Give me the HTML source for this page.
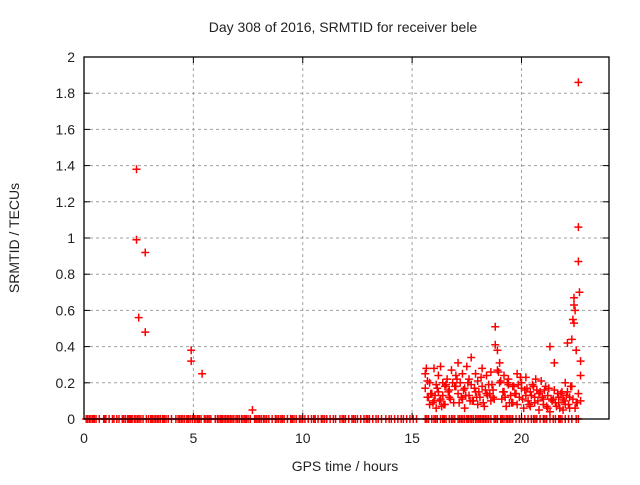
<!DOCTYPE html>
<html><head><meta charset="utf-8"><style>
body{margin:0;background:#fff;}
svg text{font-family:"Liberation Sans",sans-serif;font-size:14px;fill:#222;}
</style></head><body>
<svg id="chart" width="640" height="480" xmlns="http://www.w3.org/2000/svg">
<rect width="640" height="480" fill="#fff"/>
<g id="grid"></g><g id="marks"></g><g id="axes"></g>
</svg>
<script>
const xTicks=[0,5,10,15,20];
const yTicks=[0,0.2,0.4,0.6,0.8,1,1.2,1.4,1.6,1.8,2];
const yTickLabels=["0","0.2","0.4","0.6","0.8","1","1.2","1.4","1.6","1.8","2"];
const zeroTimes=[0.1,0.17,0.25,0.32,0.4,0.47,0.55,0.7,0.9,0.95,1.0,1.15,1.3,1.37,1.5,1.6,1.75,1.82,1.9,2.0,2.05,2.1,2.15,2.2,2.3,2.37,2.45,2.52,2.6,2.7,2.85,2.95,3.05,3.12,3.2,3.27,3.35,3.42,3.5,3.6,3.67,3.75,3.85,4.0,4.2,4.3,4.37,4.45,4.52,4.6,4.7,4.77,4.85,4.95,5.05,5.12,5.2,5.27,5.35,5.5,5.57,5.65,5.72,5.8,6.0,6.1,6.17,6.25,6.32,6.4,6.47,6.55,6.62,6.7,6.77,6.85,6.95,7.02,7.1,7.2,7.27,7.35,7.42,7.5,7.6,7.8,7.87,7.95,8.02,8.1,8.2,8.27,8.35,8.45,8.6,8.75,8.82,8.9,9.0,9.07,9.15,9.3,9.45,9.52,9.6,9.7,9.85,9.92,10.0,10.1,10.25,10.4,10.5,10.57,10.7,10.85,10.92,11.0,11.1,11.25,11.4,11.5,11.7,11.8,11.87,11.95,12.1,12.25,12.32,12.4,12.5,12.65,12.8,12.9,12.97,13.05,13.2,13.35,13.45,13.6,13.8,13.95,14.05,14.2,14.35,14.5,14.6,14.75,14.9,15.05,15.2,15.6,15.67,15.75,15.9,16.0,16.07,16.15,16.3,16.4,16.47,16.55,16.7,16.8,16.87,16.95,17.1,17.17,17.25,17.32,17.4,17.5,17.57,17.65,17.72,17.8,17.9,17.97,18.05,18.12,18.2,18.27,18.35,18.42,18.5,18.6,18.75,18.82,18.9,19.05,19.12,19.2,19.3,19.37,19.45,19.52,19.6,19.75,19.9,20.0,20.15,20.3,20.45,20.55,20.62,20.7,20.85,21.0,21.07,21.15,21.3,21.45,21.55,21.7,21.77,21.85,22.0,22.15,22.3,22.5,22.6];
const pointTimes=[2.4,2.4,2.5,2.8,2.8,4.9,4.9,5.4,7.7,
22.6,22.6,22.6,22.65,22.4,22.4,22.45,22.35,22.4,22.3,22.5,22.7,18.8,18.8,18.9,21.3,22.1,
15.6,15.6,15.7,15.7,15.8,15.8,15.9,16.0,16.0,16.1,16.1,16.2,16.2,16.3,16.3,16.4,16.4,16.5,16.5,16.6,16.7,16.7,16.8,16.9,17.0,17.0,17.1,17.1,17.2,17.3,17.3,17.4,17.4,17.5,17.6,17.6,17.7,17.7,17.8,17.9,17.9,18.0,18.0,18.1,18.2,18.2,18.3,18.4,18.4,18.5,18.6,18.6,18.7,18.7,18.9,19.0,19.0,19.1,19.2,19.2,19.3,19.4,19.4,19.5,19.6,19.6,19.7,19.8,19.8,19.9,20.0,20.0,20.1,20.2,20.2,20.3,20.4,20.4,20.5,20.6,20.6,20.7,20.8,20.8,20.9,21.0,21.0,21.1,21.2,21.2,21.3,21.4,21.5,21.5,21.6,21.7,21.7,21.8,21.9,21.9,22.0,22.0,22.1,22.2,22.2,22.3,22.5,22.6,22.7,22.7,15.65,16.05,16.45,16.85,17.25,17.65,18.05,18.45,19.05,19.45,19.85,20.25,20.65,21.05,21.45,21.85,22.25,
15.75,15.85,15.95,16.15,16.25,16.35,16.55,16.65,16.75,16.95,17.05,17.15,17.35,17.45,17.55,17.75,17.85,17.95,18.15,18.25,18.35,18.55,18.65,18.75,18.95,19.15,19.25,19.35,19.55,19.65,19.75,19.95,20.05,20.15,20.35,20.45,20.55,20.75,20.85,20.95,21.15,21.25,21.35,21.55,21.65,21.75,21.95,22.05,22.15,22.35,22.45,22.55];
const pointValues=[1.38,0.99,0.56,0.92,0.48,0.38,0.32,0.25,0.05,
1.86,1.06,0.87,0.70,0.67,0.63,0.60,0.55,0.53,0.44,0.38,0.32,0.51,0.41,0.38,0.40,0.42,
0.25,0.17,0.21,0.12,0.08,0.20,0.14,0.28,0.10,0.19,0.06,0.15,0.24,0.29,0.11,0.20,0.13,0.18,0.08,0.22,0.16,0.12,0.27,0.09,0.18,0.24,0.14,0.31,0.20,0.11,0.25,0.17,0.06,0.29,0.13,0.22,0.34,0.19,0.10,0.25,0.15,0.08,0.21,0.12,0.28,0.18,0.07,0.24,0.14,0.19,0.10,0.26,0.16,0.12,0.27,0.31,0.20,0.11,0.24,0.15,0.07,0.19,0.22,0.13,0.09,0.18,0.14,0.25,0.08,0.12,0.20,0.17,0.06,0.13,0.23,0.10,0.15,0.07,0.19,0.12,0.09,0.16,0.05,0.14,0.21,0.08,0.11,0.18,0.06,0.13,0.04,0.10,0.16,0.31,0.07,0.12,0.09,0.14,0.05,0.11,0.20,0.08,0.15,0.06,0.12,0.18,0.09,0.14,0.24,0.10,0.28,0.13,0.08,0.20,0.12,0.10,0.15,0.13,0.21,0.09,0.19,0.17,0.22,0.16,0.11,0.15,0.18,0.12,0.14,0.09,0.17,0.10,0.07,0.19,
0.15,0.11,0.18,0.22,0.09,0.16,0.13,0.20,0.10,0.17,0.12,0.23,0.09,0.16,0.14,0.19,0.11,0.26,0.15,0.12,0.20,0.09,0.18,0.14,0.23,0.11,0.16,0.08,0.13,0.18,0.10,0.15,0.12,0.07,0.17,0.11,0.09,0.14,0.06,0.10,0.13,0.08,0.11,0.06,0.09,0.12,0.07,0.14,0.10,0.13,0.21,0.09];
const X0=84,X1=609,Y0=419,Y1=57,XMAX=24,YMAX=2;
const sx=v=>X0+(v/XMAX)*(X1-X0);
const sy=v=>Y0-(v/YMAX)*(Y0-Y1);
const NS="http://www.w3.org/2000/svg";
const grid=document.getElementById('grid'),marks=document.getElementById('marks'),axes=document.getElementById('axes');
function mk(tag,attrs,parent){const e=document.createElementNS(NS,tag);for(const k in attrs)e.setAttribute(k,attrs[k]);parent.appendChild(e);return e;}
yTicks.forEach((t,i)=>{
  const y=sy(t);
  if(t>0&&t<YMAX){const g=mk('line',{x1:X0,x2:X1,y1:y,y2:y,stroke:'#a0a0a0','stroke-dasharray':'3,3'},grid);
  
  }
  mk('line',{x1:X0,x2:X0+6,y1:y,y2:y,stroke:'#000'},axes);
  mk('line',{x1:X1,x2:X1-6,y1:y,y2:y,stroke:'#000'},axes);
  const tx=mk('text',{x:X0-9,y:y+5,'text-anchor':'end'},axes);tx.textContent=yTickLabels[i];
  
  
});
xTicks.forEach(t=>{
  const x=sx(t);
  if(t>0){const g=mk('line',{x1:x,x2:x,y1:Y0,y2:Y1,stroke:'#a0a0a0','stroke-dasharray':'3,3'},grid);
  
  }
  mk('line',{x1:x,x2:x,y1:Y0,y2:Y0-6,stroke:'#000'},axes);
  mk('line',{x1:x,x2:x,y1:Y1,y2:Y1+6,stroke:'#000'},axes);
  const tx=mk('text',{x:x,y:Y0+24,'text-anchor':'middle'},axes);tx.textContent=String(t);
  
  
});
const frame=mk('rect',{x:X0,y:Y1,width:X1-X0,height:Y0-Y1,fill:'none',stroke:'#000','stroke-width':1.3},axes);


function plus(x,y,name){
  const p=mk('path',{d:`M${x-4},${y}H${x+4}M${x},${y-4}V${y+4}`,stroke:'#f00','stroke-width':1.5,fill:'none'},marks);
  
  
}
zeroTimes.forEach(t=>plus(sx(t),sy(0),'zero-point'));
pointTimes.forEach((t,i)=>plus(sx(t),sy(pointValues[i]),'data-point'));
const title=mk('text',{x:343,y:32,'text-anchor':'middle'},axes);title.textContent='Day 308 of 2016, SRMTID for receiver bele';


const xl=mk('text',{x:345,y:471,'text-anchor':'middle'},axes);xl.textContent='GPS time / hours';


const yl=mk('text',{x:0,y:0,'text-anchor':'middle',transform:'translate(19,238) rotate(-90)'},axes);yl.textContent='SRMTID / TECUs';


</script>
</body></html>
